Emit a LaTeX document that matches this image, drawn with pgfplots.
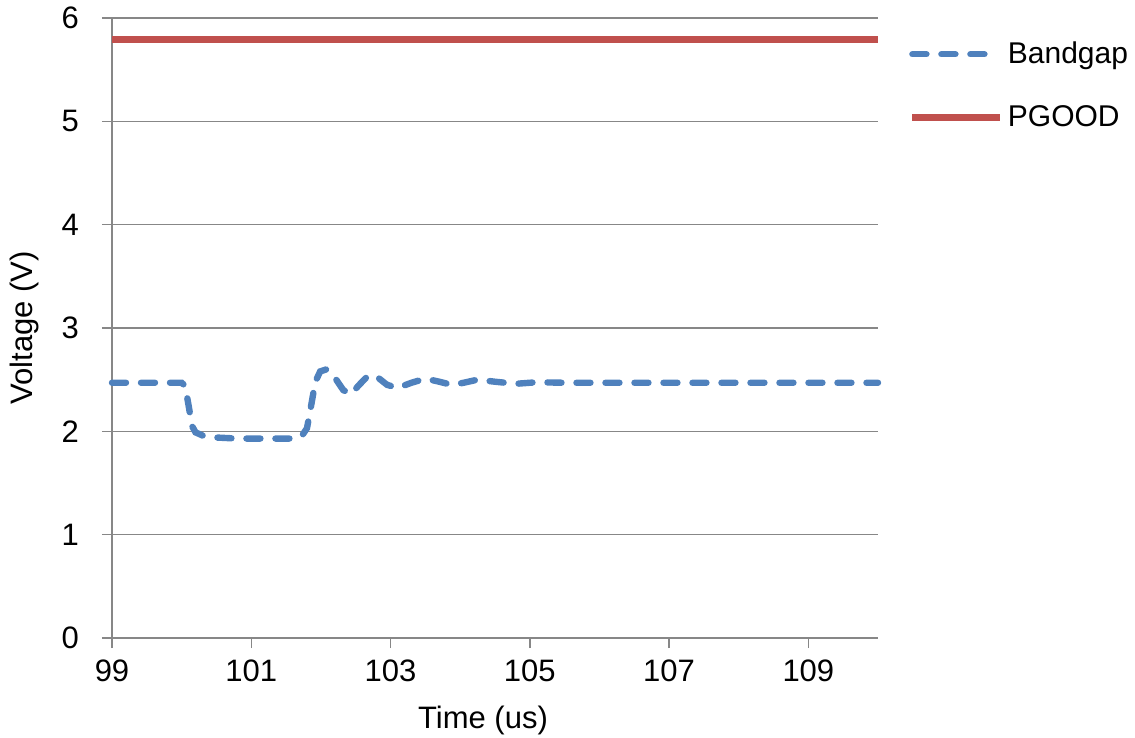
\documentclass[border=0pt]{standalone}
\usepackage{pgfplots}
\pgfplotsset{compat=1.18}
\usepackage{fontspec}
\setmainfont{Liberation Sans}
\definecolor{bgblue}{HTML}{4F81BD}
\definecolor{pgred}{HTML}{C0504D}
\definecolor{gridgray}{HTML}{878787}
\begin{document}
\begin{tikzpicture}
\path[use as bounding box] (-56pt,-50pt) rectangle (511.5pt,319pt);
\begin{axis}[
  at={(0,0)}, anchor=south west,
  scale only axis,
  width=383pt, height=310pt,
  xmin=99, xmax=110, ymin=0, ymax=6,
  xtick={99,101,...,109},
  ytick={0,1,...,6},
  axis x line=bottom, axis y line=left,
  axis line style={gridgray, line width=0.8pt, -},
  ymajorgrids,
  grid style={gridgray, line width=0.75pt},
  tick style={gridgray, line width=0.75pt},
  tick align=outside,
  major tick length=5pt,
  /pgf/number format/assume math mode=true,
  ticklabel style={font=\fontsize{15.5}{18}\selectfont, text=black},
  xticklabel style={yshift=-2.5pt},
  yticklabel style={xshift=-8pt},
  label style={font=\fontsize{15.5}{18}\selectfont},
  xlabel={Time (us)},
  ylabel={Voltage (V)},
  xlabel style={yshift=-5pt, xshift=-6pt},
  ylabel style={yshift=4.5pt},
  legend style={at={(1.032,0.975)}, anchor=north west, draw=none, fill=none,
    font=\fontsize{15}{18}\selectfont, row sep=15.5pt, cells={anchor=west}},
  legend cell align=left,
  clip=false,
]
\addplot[bgblue, line width=3.2pt, line cap=round, dash pattern=on 7pt off 7.5pt,
  legend image code/.code={\draw[bgblue, line width=3.2pt, line cap=round, dash pattern=on 7pt off 7.5pt] (0pt,0pt) -- (36pt,0pt); \path (44pt,0pt);}]
coordinates {
(99,2.47) (100.0,2.47) (100.05,2.44) (100.1,2.25) (100.15,2.05) (100.2,1.99)
(100.3,1.96) (100.5,1.94) (100.8,1.93) (101.2,1.93) (101.6,1.93) (101.72,1.95)
(101.8,2.03) (101.86,2.25) (101.92,2.48) (101.99,2.58) (102.08,2.6) (102.2,2.52)
(102.32,2.4) (102.43,2.36) (102.55,2.45) (102.68,2.54) (102.8,2.53) (102.95,2.45)
(103.1,2.42) (103.3,2.47) (103.5,2.51) (103.7,2.48) (103.88,2.45) (104.05,2.47)
(104.25,2.5) (104.5,2.48) (104.8,2.46) (105.1,2.475) (105.5,2.47) (110,2.47)
};
\addlegendentry{Bandgap}
\addplot[pgred, line width=3.5pt,
  legend image code/.code={\draw[pgred, line width=3.5pt] (0pt,0pt) -- (44pt,0pt);}]
coordinates {(99,5.79) (110,5.79)};
\addlegendentry{PGOOD}
\end{axis}
\end{tikzpicture}
\end{document}
